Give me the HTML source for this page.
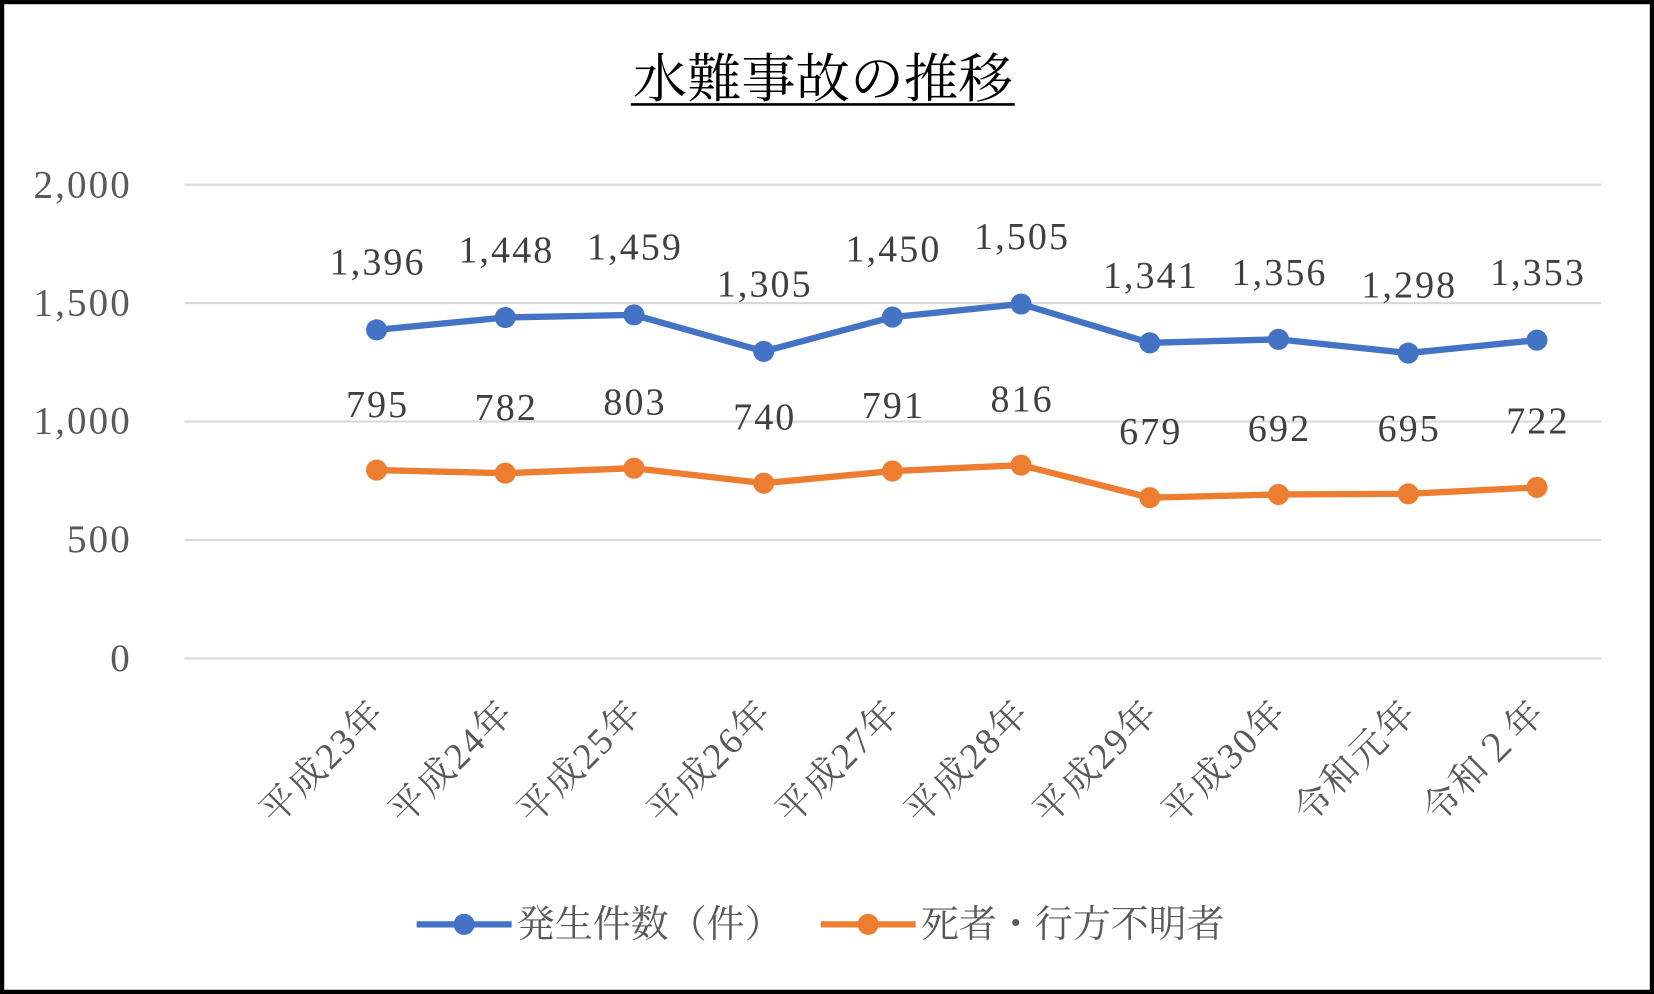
<!DOCTYPE html>
<html><head><meta charset="utf-8"><style>
html,body{margin:0;padding:0;background:#fff;}
svg{display:block;}
text{font-family:"Liberation Serif","Noto Serif CJK JP","Noto Serif CJK SC",serif;}
</style></head><body>
<svg width="1654" height="994" viewBox="0 0 1568 942" preserveAspectRatio="none" xmlns="http://www.w3.org/2000/svg">
<rect x="2" y="2" width="1564" height="938" fill="#fff" stroke="#000" stroke-width="4"/>
<text x="600" y="92" font-size="50" textLength="360" lengthAdjust="spacingAndGlyphs" fill="#000">水難事故の推移</text>
<line x1="598" y1="99" x2="962" y2="99" stroke="#000" stroke-width="2.5"/>
<g stroke="#d9d9d9" stroke-width="2">
<line x1="175" y1="175" x2="1518" y2="175"/>
<line x1="175" y1="287.25" x2="1518" y2="287.25"/>
<line x1="175" y1="399.5" x2="1518" y2="399.5"/>
<line x1="175" y1="511.75" x2="1518" y2="511.75"/>
<line x1="175" y1="624" x2="1518" y2="624"/>
</g>
<g font-size="37" fill="#595959" text-anchor="end" letter-spacing="2">
<text x="125" y="187">2,000</text>
<text x="125" y="299">1,500</text>
<text x="125" y="411">1,000</text>
<text x="125" y="523">500</text>
<text x="125" y="636">0</text>
</g>
<g font-size="35" fill="#595959" text-anchor="end" letter-spacing="2">
<text transform="translate(367,677) rotate(-45)">平成23年</text>
<text transform="translate(489,677) rotate(-45)">平成24年</text>
<text transform="translate(611,677) rotate(-45)">平成25年</text>
<text transform="translate(734,677) rotate(-45)">平成26年</text>
<text transform="translate(856,677) rotate(-45)">平成27年</text>
<text transform="translate(978,677) rotate(-45)">平成28年</text>
<text transform="translate(1100,677) rotate(-45)">平成29年</text>
<text transform="translate(1222,677) rotate(-45)">平成30年</text>
<text transform="translate(1345,677) rotate(-45)">令和元年</text>
<text transform="translate(1467,677) rotate(-45)">令和２年</text>
</g>
<polyline fill="none" stroke="#4472C4" stroke-width="6" stroke-linejoin="round" points="357,312.6 479,300.9 601,298.4 724,333 846,300.5 968,288.1 1090,324.9 1212,321.6 1335,334.6 1457,322.3"/>
<g fill="#4472C4">
<circle cx="357" cy="312.6" r="10"/><circle cx="479" cy="300.9" r="10"/><circle cx="601" cy="298.4" r="10"/><circle cx="724" cy="333" r="10"/><circle cx="846" cy="300.5" r="10"/><circle cx="968" cy="288.1" r="10"/><circle cx="1090" cy="324.9" r="10"/><circle cx="1212" cy="321.6" r="10"/><circle cx="1335" cy="334.6" r="10"/><circle cx="1457" cy="322.3" r="10"/>
</g>
<polyline fill="none" stroke="#ED7D31" stroke-width="6" stroke-linejoin="round" points="357,445.5 479,448.4 601,443.7 724,457.9 846,446.4 968,440.8 1090,471.6 1212,468.6 1335,468 1457,461.9"/>
<g fill="#ED7D31">
<circle cx="357" cy="445.5" r="10"/><circle cx="479" cy="448.4" r="10"/><circle cx="601" cy="443.7" r="10"/><circle cx="724" cy="457.9" r="10"/><circle cx="846" cy="446.4" r="10"/><circle cx="968" cy="440.8" r="10"/><circle cx="1090" cy="471.6" r="10"/><circle cx="1212" cy="468.6" r="10"/><circle cx="1335" cy="468" r="10"/><circle cx="1457" cy="461.9" r="10"/>
</g>
<g font-size="36" fill="#404040" text-anchor="middle" letter-spacing="2">
<text x="358" y="260">1,396</text><text x="480" y="249">1,448</text><text x="602" y="246">1,459</text><text x="725" y="281">1,305</text><text x="847" y="248">1,450</text><text x="969" y="236">1,505</text><text x="1091" y="273">1,341</text><text x="1213" y="270">1,356</text><text x="1336" y="282">1,298</text><text x="1458" y="270">1,353</text>
<text x="358" y="395">795</text><text x="480" y="398">782</text><text x="602" y="393">803</text><text x="725" y="407">740</text><text x="847" y="396">791</text><text x="969" y="390">816</text><text x="1091" y="421">679</text><text x="1213" y="418">692</text><text x="1336" y="418">695</text><text x="1458" y="411">722</text>
</g>
<line x1="395" y1="876" x2="485" y2="876" stroke="#4472C4" stroke-width="6"/>
<circle cx="440" cy="876" r="10" fill="#4472C4"/>
<text x="490" y="888" font-size="36" fill="#595959">発生件数（件）</text>
<line x1="778" y1="876" x2="868" y2="876" stroke="#ED7D31" stroke-width="6"/>
<circle cx="823" cy="876" r="10" fill="#ED7D31"/>
<text x="873" y="888" font-size="36" fill="#595959">死者・行方不明者</text>
</svg>
</body></html>
